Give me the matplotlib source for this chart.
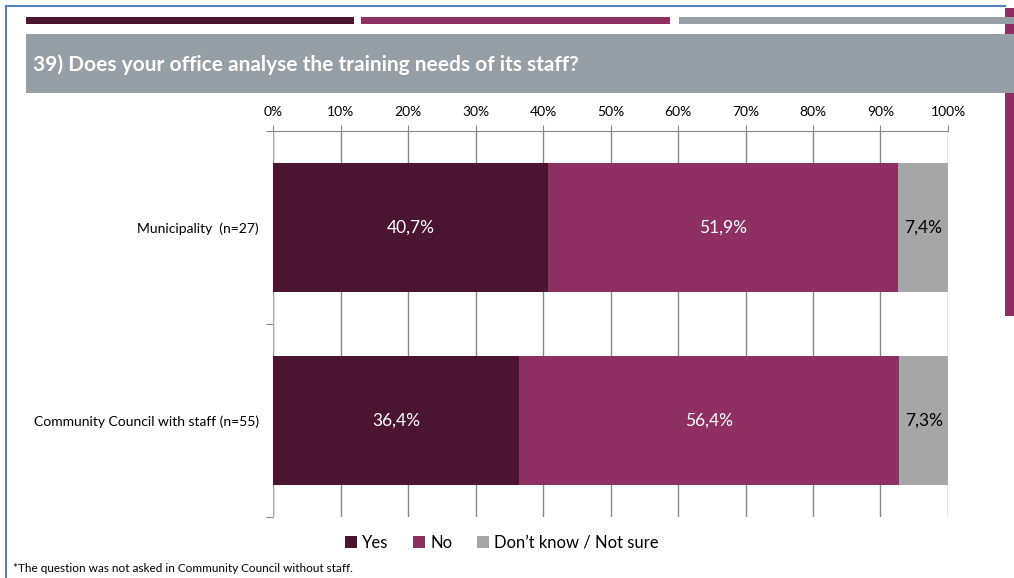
import numpy as np
import matplotlib.pyplot as plt
from matplotlib.patches import Rectangle
from matplotlib.lines import Line2D

plt.rcParams['font.family'] = ['Lato', 'DejaVu Sans']

groups = ['Municipality  (n=27)', 'Community Council with staff (n=55)']
answers = ['Yes', 'No', 'Don’t know / Not sure']
yes = [40.7, 36.4]
no = [51.9, 56.4]
dont_know = [7.4, 7.3]
colors = ['#4b1431', '#8e3062', '#a6a6a6']
label_colors = ['white', 'white', 'black']

W, H = 1014, 578
fig = plt.figure(figsize=(W / 100, H / 100), dpi=100)


def px(x0, y0, x1, y1, color, z=0):
    # rectangle given in pixel coords (origin top-left)
    fig.patches.append(Rectangle((x0 / W, 1 - y1 / H), (x1 - x0) / W, (y1 - y0) / H,
                                 transform=fig.transFigure, color=color, zorder=z, lw=0))


# page decoration
px(1005, 8, 1014, 316, '#8e3062', z=0)
px(26, 17, 354, 24, '#4b1431', z=1)
px(361, 17, 670, 24, '#8e3062', z=1)
px(679, 17, 1014, 24, '#969ea6', z=1)
px(26, 34, 1014, 93, '#969ea6', z=1)
fig.add_artist(Line2D([6 / W, 6 / W], [0, 1 - 6 / H], transform=fig.transFigure, color='#4f81bd', lw=1.5))
fig.add_artist(Line2D([6 / W, 1005 / W], [1 - 6 / H, 1 - 6 / H], transform=fig.transFigure, color='#4f81bd', lw=1.5))
fig.text(33 / W, 1 - 65 / H, '39) Does your office analyse the training needs of its staff?',
         color='white', fontsize=15, fontweight='bold', va='center', ha='left', zorder=2)

ax = fig.add_axes([273 / W, 1 - 517 / H, 675 / W, 386 / H])
y = np.arange(len(groups))
left = np.zeros(len(groups))
for vals, name, c, lc in zip([yes, no, dont_know], answers, colors, label_colors):
    bars = ax.barh(y, vals, left=left, height=0.67, color=c, label=name, zorder=3)
    ax.bar_label(bars, labels=[f'{v:.1f}%'.replace('.', ',') for v in vals],
                 label_type='center', color=lc, fontsize=12.5)
    left += vals

ax.set_xlim(0, 100)
ax.set_ylim(1.5, -0.5)
ax.set_xticks(np.arange(0, 101, 10))
ax.set_xticklabels([f'{t}%' for t in range(0, 101, 10)], fontsize=10)
ax.xaxis.tick_top()
ax.tick_params(axis='x', length=4, color='#888888', pad=5)
ax.grid(axis='x', color='#888888', lw=1, zorder=0)
ax.set_yticks([-0.5, 0.5, 1.5], minor=False)
ax.set_yticklabels([])
ax.tick_params(axis='y', length=5, color='#888888')
ax.set_yticks(y, minor=True)
ax.set_yticklabels(groups, minor=True, fontsize=10)
ax.tick_params(axis='y', which='minor', length=0, pad=10)
for s in ['right', 'bottom']:
    ax.spines[s].set_visible(False)
ax.spines['top'].set_color('#888888')
ax.spines['left'].set_color('#aaaaaa')

fig.legend(loc='center', bbox_to_anchor=(502 / W, 1 - 543 / H), ncol=3, frameon=False,
           fontsize=12, handlelength=0.7, handleheight=0.7, handletextpad=0.3, columnspacing=1.5)
fig.text(13 / W, 1 - 569 / H, '*The question was not asked in Community Council without staff.',
         fontsize=8.5, va='center')

fig.savefig('out.png', dpi=100)
